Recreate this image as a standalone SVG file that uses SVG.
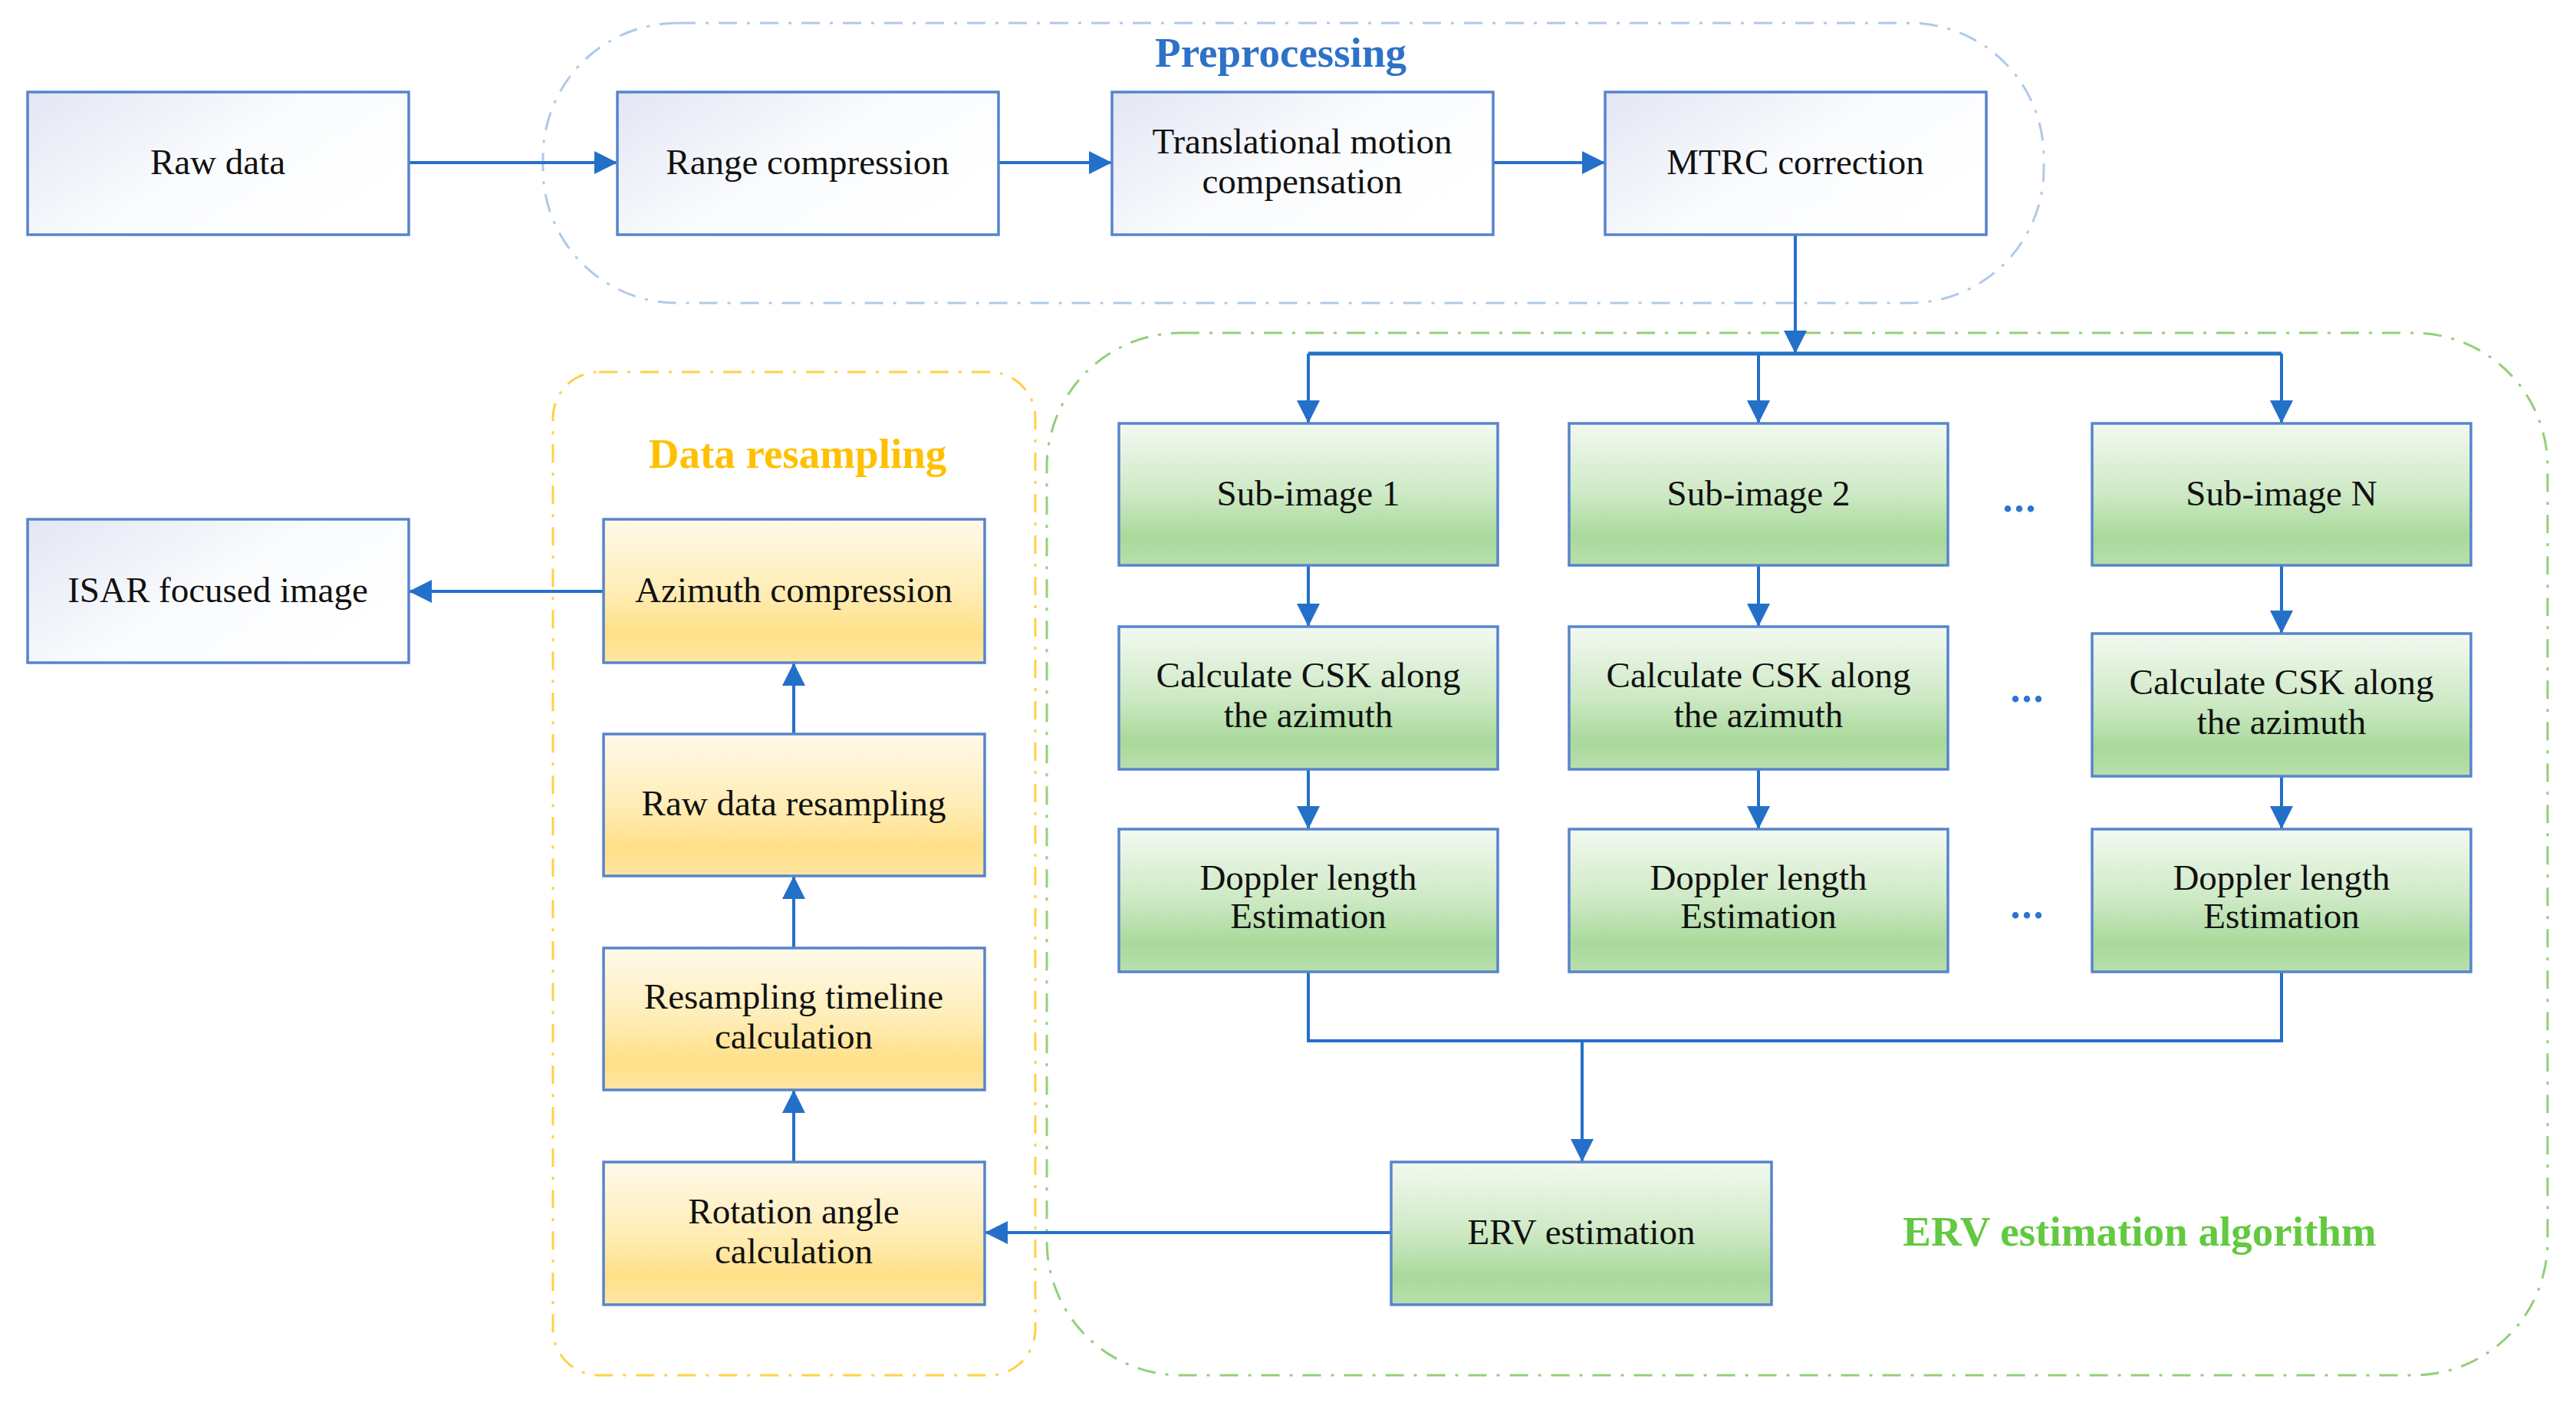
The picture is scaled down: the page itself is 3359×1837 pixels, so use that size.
<svg xmlns="http://www.w3.org/2000/svg" width="3359" height="1837" viewBox="0 0 3359 1837">
<defs>
<style>
.box{stroke:#5784CD;stroke-width:3.5}
.blue{fill:url(#gBlue)}
.green{fill:url(#gGreen)}
.yellow{fill:url(#gYellow)}
.t{font-family:"Liberation Serif","Times New Roman",serif;font-size:47px;fill:#111;text-anchor:middle}
.title{font-family:"Liberation Serif","Times New Roman",serif;font-size:55px;font-weight:bold;text-anchor:middle}
.dots{font-family:"Liberation Serif",serif;font-size:52px;font-weight:bold;fill:#2E74D0;text-anchor:middle;letter-spacing:2px}
.c{fill:none;stroke:#2470C9;stroke-width:4}
.grp{fill:none;stroke-width:3;stroke-dasharray:24 13 4 13}
</style>
<linearGradient id="gBlue" x1="0" y1="0" x2="1" y2="0.6">
<stop offset="0" stop-color="#E3E6F4"/>
<stop offset="0.55" stop-color="#F9FBFD"/>
<stop offset="1" stop-color="#FFFFFF"/>
</linearGradient>
<linearGradient id="gGreen" x1="0" y1="0" x2="0" y2="1">
<stop offset="0" stop-color="#F3F9F1"/>
<stop offset="0.5" stop-color="#CDE9C4"/>
<stop offset="0.8" stop-color="#A9D99B"/>
<stop offset="1" stop-color="#B8DFAC"/>
</linearGradient>
<linearGradient id="gYellow" x1="0" y1="0" x2="0" y2="1">
<stop offset="0" stop-color="#FFF9EA"/>
<stop offset="0.5" stop-color="#FFEDB6"/>
<stop offset="0.8" stop-color="#FFE088"/>
<stop offset="1" stop-color="#FFE6A2"/>
</linearGradient>
<marker id="arr" markerUnits="userSpaceOnUse" markerWidth="30" markerHeight="30" refX="30" refY="15" orient="auto">
<path d="M0,0 L30,15 L0,30 z" fill="#2470C9"/>
</marker>
</defs>
<rect width="3359" height="1837" fill="#FFFFFF"/>

<g id="groups">
<rect id="preprocessing-region" class="grp" x="708" y="30" width="1957" height="365" rx="175" ry="175" stroke="#AFC9E8"/>
<rect id="resampling-region" class="grp" x="721" y="485" width="629" height="1308" rx="60" ry="60" stroke="#FFD146"/>
<rect id="erv-region" class="grp" x="1365" y="434" width="1957" height="1359" rx="175" ry="175" stroke="#93CF78"/>
<text class="title" x="1670" y="87" fill="#2E72C8">Preprocessing</text>
<text class="title" x="1040" y="610" fill="#FFC000">Data resampling</text>
<text class="title" x="2790" y="1624" fill="#62C940">ERV estimation algorithm</text>
</g>

<g id="connectors">
<path class="c" d="M533,212 H805" marker-end="url(#arr)"/>
<path class="c" d="M1302,212 H1450" marker-end="url(#arr)"/>
<path class="c" d="M1947,212 H2093" marker-end="url(#arr)"/>
<path class="c" d="M2341,306 V461" marker-end="url(#arr)"/>
<path class="c" d="M1706,461 H2975" style="stroke-width:5"/>
<path class="c" d="M1706,461 V552" marker-end="url(#arr)"/>
<path class="c" d="M2293,461 V552" marker-end="url(#arr)"/>
<path class="c" d="M2975,461 V552" marker-end="url(#arr)"/>
<path class="c" d="M1706,737 V817" marker-end="url(#arr)"/>
<path class="c" d="M2293,737 V817" marker-end="url(#arr)"/>
<path class="c" d="M2975,737 V826" marker-end="url(#arr)"/>
<path class="c" d="M1706,1003 V1081" marker-end="url(#arr)"/>
<path class="c" d="M2293,1003 V1081" marker-end="url(#arr)"/>
<path class="c" d="M2975,1012 V1081" marker-end="url(#arr)"/>
<path class="c" d="M1706,1267 V1357 H2975 V1267"/>
<path class="c" d="M2063,1357 V1515" marker-end="url(#arr)"/>
<path class="c" d="M1814,1607 H1284" marker-end="url(#arr)"/>
<path class="c" d="M1035,1515 V1421" marker-end="url(#arr)"/>
<path class="c" d="M1035,1236 V1142" marker-end="url(#arr)"/>
<path class="c" d="M1035,957 V864" marker-end="url(#arr)"/>
<path class="c" d="M787,771 H533" marker-end="url(#arr)"/>
</g>

<g id="raw-data"><rect class="box blue" x="36" y="120" width="497" height="186"/><text class="t" x="284" y="227">Raw data</text></g>
<g id="range-compression"><rect class="box blue" x="805" y="120" width="497" height="186"/><text class="t" x="1053" y="227">Range compression</text></g>
<g id="translational-motion-compensation"><rect class="box blue" x="1450" y="120" width="497" height="186"/><text class="t" x="1698" y="200">Translational motion</text><text class="t" x="1698" y="252">compensation</text></g>
<g id="mtrc-correction"><rect class="box blue" x="2093" y="120" width="497" height="186"/><text class="t" x="2341" y="227">MTRC correction</text></g>

<g id="isar-focused-image"><rect class="box blue" x="36" y="677" width="497" height="187"/><text class="t" x="284" y="785">ISAR focused image</text></g>
<g id="azimuth-compression"><rect class="box yellow" x="787" y="677" width="497" height="187"/><text class="t" x="1035" y="785">Azimuth compression</text></g>
<g id="raw-data-resampling"><rect class="box yellow" x="787" y="957" width="497" height="185"/><text class="t" x="1035" y="1063">Raw data resampling</text></g>
<g id="resampling-timeline-calculation"><rect class="box yellow" x="787" y="1236" width="497" height="185"/><text class="t" x="1035" y="1315">Resampling timeline</text><text class="t" x="1035" y="1367">calculation</text></g>
<g id="rotation-angle-calculation"><rect class="box yellow" x="787" y="1515" width="497" height="186"/><text class="t" x="1035" y="1595">Rotation angle</text><text class="t" x="1035" y="1647">calculation</text></g>

<g id="sub-image-1"><rect class="box green" x="1459" y="552" width="494" height="185"/><text class="t" x="1706" y="659">Sub-image 1</text></g>
<g id="sub-image-2"><rect class="box green" x="2046" y="552" width="494" height="185"/><text class="t" x="2293" y="659">Sub-image 2</text></g>
<g id="sub-image-n"><rect class="box green" x="2728" y="552" width="494" height="185"/><text class="t" x="2975" y="659">Sub-image N</text></g>

<g id="csk-1"><rect class="box green" x="1459" y="817" width="494" height="186"/><text class="t" x="1706" y="896">Calculate CSK along</text><text class="t" x="1706" y="948">the azimuth</text></g>
<g id="csk-2"><rect class="box green" x="2046" y="817" width="494" height="186"/><text class="t" x="2293" y="896">Calculate CSK along</text><text class="t" x="2293" y="948">the azimuth</text></g>
<g id="csk-n"><rect class="box green" x="2728" y="826" width="494" height="186"/><text class="t" x="2975" y="905">Calculate CSK along</text><text class="t" x="2975" y="957">the azimuth</text></g>

<g id="doppler-1"><rect class="box green" x="1459" y="1081" width="494" height="186"/><text class="t" x="1706" y="1160">Doppler length</text><text class="t" x="1706" y="1210">Estimation</text></g>
<g id="doppler-2"><rect class="box green" x="2046" y="1081" width="494" height="186"/><text class="t" x="2293" y="1160">Doppler length</text><text class="t" x="2293" y="1210">Estimation</text></g>
<g id="doppler-n"><rect class="box green" x="2728" y="1081" width="494" height="186"/><text class="t" x="2975" y="1160">Doppler length</text><text class="t" x="2975" y="1210">Estimation</text></g>

<g id="erv-estimation"><rect class="box green" x="1814" y="1515" width="496" height="186"/><text class="t" x="2062" y="1622">ERV estimation</text></g>

<g id="ellipses">
<text class="dots" x="2634" y="667">...</text>
<text class="dots" x="2644" y="915">...</text>
<text class="dots" x="2644" y="1197">...</text>
</g>
</svg>
